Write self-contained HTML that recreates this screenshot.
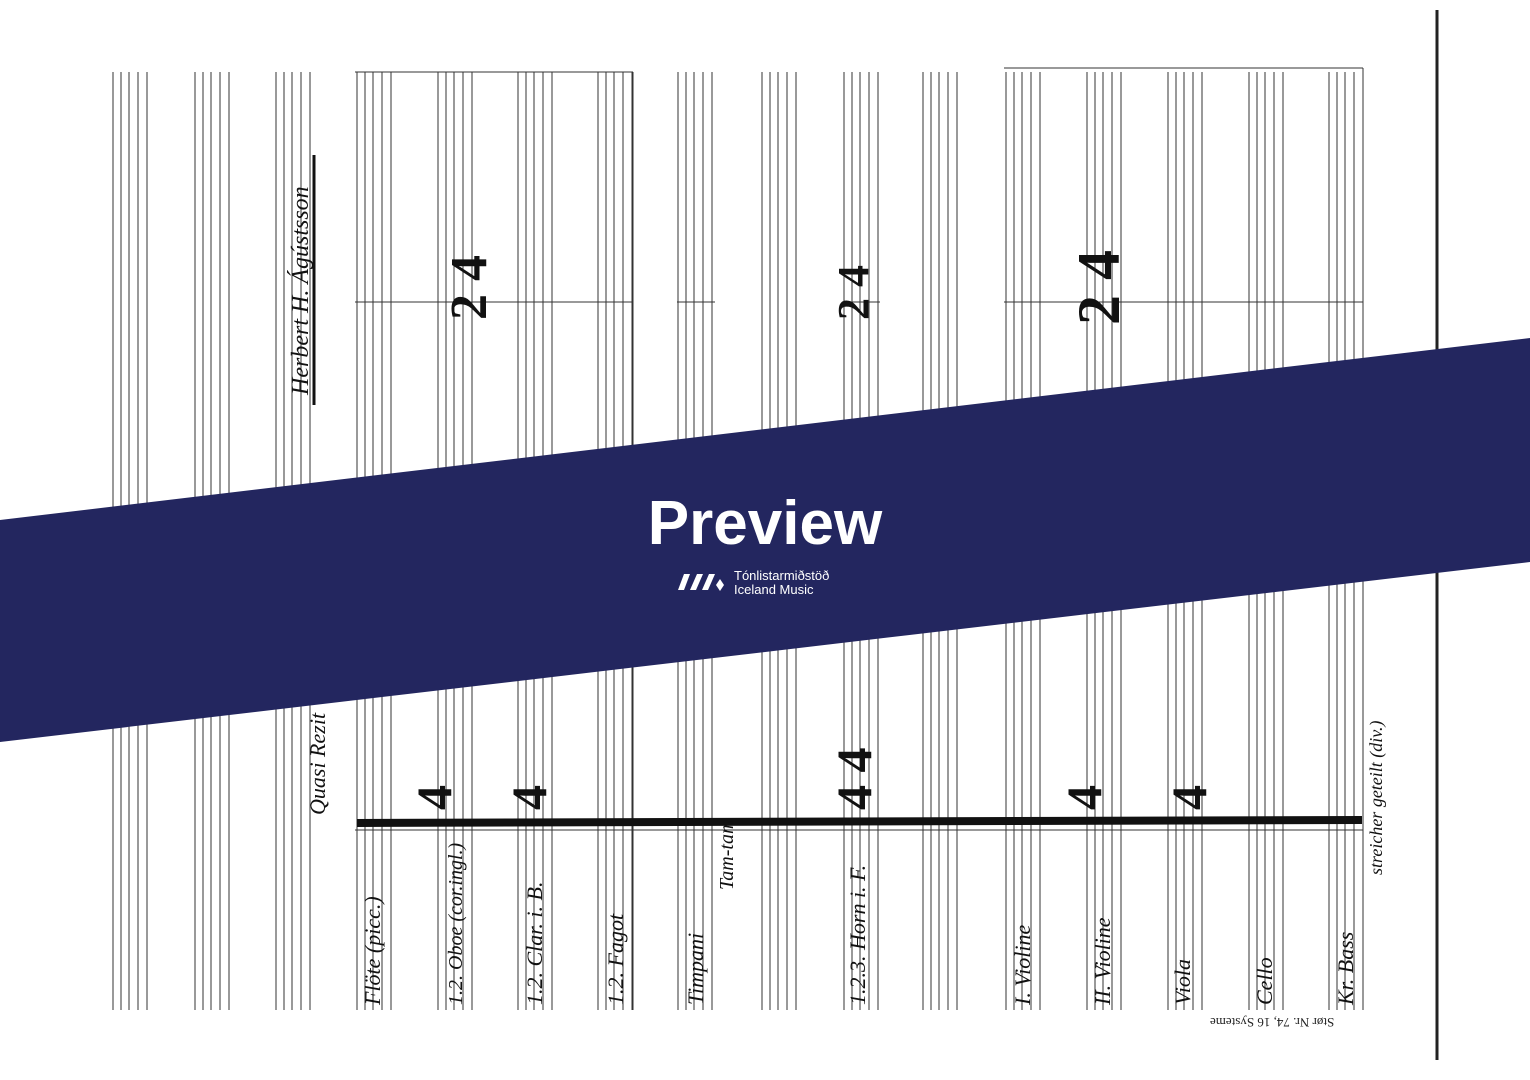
<!DOCTYPE html>
<html><head><meta charset="utf-8"><style>
html,body{margin:0;padding:0;background:#fff;}
#c{position:relative;width:1530px;height:1080px;overflow:hidden;background:#fff;font-family:"Liberation Serif",serif;}
.rot{position:absolute;transform-origin:0 0;transform:rotate(-90deg);white-space:nowrap;color:#111;font-style:italic;}
</style></head><body><div id="c">
<svg width="1530" height="1080" style="position:absolute;left:0;top:0">
<defs>
<g id="s">
<line x1="0" y1="72" x2="0" y2="1010"/><line x1="8" y1="72" x2="8" y2="1010"/><line x1="16" y1="72" x2="16" y2="1010"/><line x1="25" y1="72" x2="25" y2="1010"/><line x1="34" y1="72" x2="34" y2="1010"/>
</g>
</defs>
<g stroke="#333" stroke-width="1">
<use href="#s" x="113"/><use href="#s" x="195"/><use href="#s" x="276"/><use href="#s" x="357"/><use href="#s" x="438"/><use href="#s" x="518"/><use href="#s" x="598"/><use href="#s" x="678"/><use href="#s" x="762"/><use href="#s" x="844"/><use href="#s" x="923"/><use href="#s" x="1006"/><use href="#s" x="1087"/><use href="#s" x="1168"/><use href="#s" x="1249"/><use href="#s" x="1329"/>
<line x1="355" y1="72" x2="633" y2="72"/><line x1="1004" y1="68" x2="1363" y2="68"/>
<line x1="355" y1="302" x2="633" y2="302"/><line x1="677" y1="302" x2="715" y2="302"/><line x1="842" y1="302" x2="880" y2="302"/><line x1="1004" y1="302" x2="1363" y2="302"/>
<line x1="355" y1="830" x2="1363" y2="830"/>
<line x1="633" y1="72" x2="633" y2="1010"/><line x1="1363" y1="68" x2="1363" y2="1010"/>
</g>
<line x1="357" y1="823" x2="1362" y2="820" stroke="#111" stroke-width="8"/>
<line x1="1437" y1="10" x2="1437" y2="1060" stroke="#222" stroke-width="3"/>
<line x1="314" y1="155" x2="314" y2="405" stroke="#111" stroke-width="3"/>
<polygon points="0,520 1530,338 1530,562 0,742" fill="#23265f"/>
<g fill="#fff"><polygon points="678,590 684,574 690,574 684,590"/><polygon points="690,590 697,574 703,574 696,590"/><polygon points="702,590 709,574 715,574 708,590"/><polygon points="716,585 720,579 724,585 720,591"/></g>
</svg>
<div style="position:absolute;left:0;width:1530px;top:488px;text-align:center;color:#fff;font:bold 62px 'Liberation Sans',sans-serif;">Preview</div>
<div style="position:absolute;left:734px;top:569px;color:#fff;font:13px 'Liberation Sans',sans-serif;line-height:14px;">Tónlistarmiðstöð<br>Iceland Music</div>
<div class="rot" style="left:288px;top:395px;font-size:24px;">Herbert H. Ágústsson</div>
<div class="rot" style="left:305px;top:815px;font-size:22px;">Quasi Rezit</div>
<div class="rot" style="left:360px;top:1005px;font-size:22px;">Flöte (picc.)</div>
<div class="rot" style="left:445px;top:1005px;font-size:20px;">1.2. Oboe (cor.ingl.)</div>
<div class="rot" style="left:522px;top:1005px;font-size:22px;">1.2. Clar. i. B.</div>
<div class="rot" style="left:603px;top:1005px;font-size:22px;">1.2. Fagot</div>
<div class="rot" style="left:683px;top:1005px;font-size:22px;">Timpani</div>
<div class="rot" style="left:716px;top:890px;font-size:20px;">Tam-tam</div>
<div class="rot" style="left:845px;top:1005px;font-size:22px;">1.2.3. Horn i. F.</div>
<div class="rot" style="left:1010px;top:1005px;font-size:22px;">I. Violine</div>
<div class="rot" style="left:1090px;top:1005px;font-size:22px;">II. Violine</div>
<div class="rot" style="left:1170px;top:1005px;font-size:22px;">Viola</div>
<div class="rot" style="left:1252px;top:1005px;font-size:22px;">Cello</div>
<div class="rot" style="left:1333px;top:1005px;font-size:22px;">Kr. Bass</div>
<div class="rot" style="left:1366px;top:875px;font-size:18px;">streicher geteilt (div.)</div>
<div class="rot" style="left:440px;top:320px;font:bold 52px 'Liberation Serif',serif;font-style:normal;">2 4</div>
<div class="rot" style="left:828px;top:320px;font:bold 44px 'Liberation Serif',serif;font-style:normal;">2 4</div>
<div class="rot" style="left:1065px;top:325px;font:bold 60px 'Liberation Serif',serif;font-style:normal;">2 4</div>
<div class="rot" style="left:405px;top:810px;font:bold 50px 'Liberation Serif',serif;font-style:normal;">4</div>
<div class="rot" style="left:500px;top:810px;font:bold 50px 'Liberation Serif',serif;font-style:normal;">4</div>
<div class="rot" style="left:825px;top:810px;font:bold 50px 'Liberation Serif',serif;font-style:normal;">4 4</div>
<div class="rot" style="left:1055px;top:810px;font:bold 50px 'Liberation Serif',serif;font-style:normal;">4</div>
<div class="rot" style="left:1160px;top:810px;font:bold 50px 'Liberation Serif',serif;font-style:normal;">4</div>
<div style="position:absolute;left:1210px;top:1014px;font-size:13px;transform:rotate(180deg);color:#222;">Stør Nr. 74, 16 Systeme</div>
</div></body></html>
